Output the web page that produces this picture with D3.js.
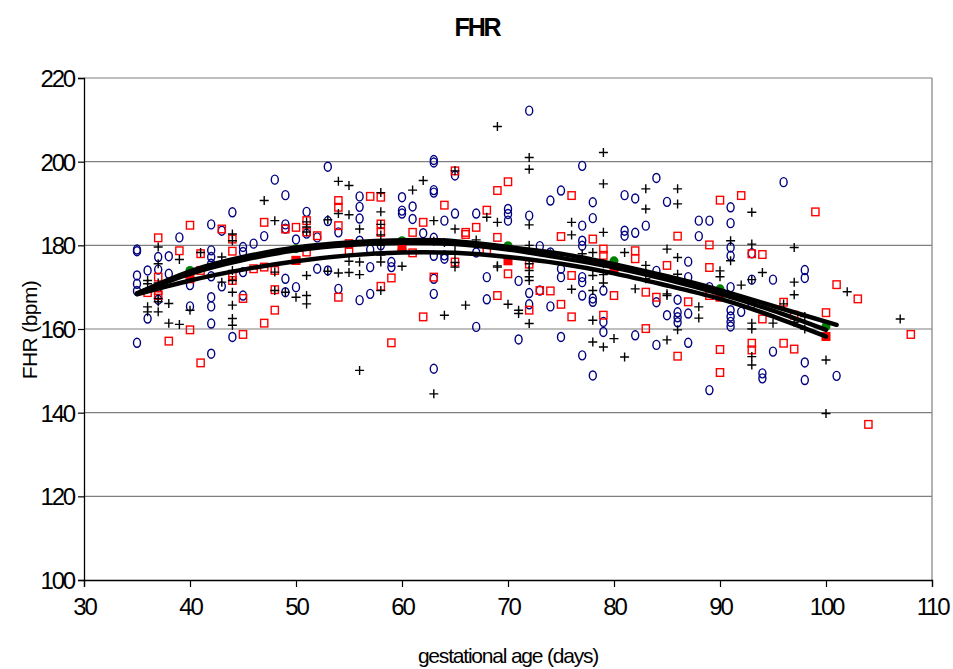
<!DOCTYPE html>
<html><head><meta charset="utf-8">
<script src="https://cdn.jsdelivr.net/npm/d3@7"></script>
<style>
html,body{margin:0;padding:0;background:#fff;}
text{font-family:"Liberation Sans",Arial,sans-serif;}
</style></head>
<body><svg id="chart" width="953" height="669"></svg>
<script>
const title = "FHR";
const xLabel = "gestational age (days)";
const yLabel = "FHR (bpm)";
const xTicks = [30,40,50,60,70,80,90,100,110];
const yTicks = [100,120,140,160,180,200,220];

// series 1: blue open circles [day, bpm]
const circlePts = [
[35,179],[35,178.6],[35,172.8],[35,170.8],[35,169.1],[35,156.7],
[36,174],[36,162.5],[37,177.2],[37,174.2],[37,170],[37,167],[38,177.4],[38,173.2],[39,181.9],
[40,165.4],[40,170.5],[42,185],[42,178.8],[42,177.2],[42,175.6],[42,172.6],[42,167.6],[42,165.4],[42,161.3],[42,154.1],
[43,183.5],[43,170.2],[44,187.9],[44,158.1],[45,179.6],[45,178.4],[45,173.6],[45,168],[46,180.4],[47,182.2],
[48,195.7],[49,192],[49,185],[49,184],[49,172],[49,168.8],[50,181.4],[50,170],[51,188],[51,182.8],
[52,181.9],[52,174.4],[53,198.8],[53,185.8],[53,174],[54,183.1],[54,169.6],
[56,191.7],[56,189.2],[56,186.4],[56,181.1],[56,166.9],[57,174.8],[57,168.4],[57,179],[58,180],
[59,176],[59,174.8],[60,191.5],[60,188.3],[60,187.6],[61,189.3],[61,186.3],[62,182.9],
[63,200.4],[63,199.8],[63,193.2],[63,192.6],[63,181.8],[63,177.5],[63,168.4],[63,150.5],[63,172],
[64,185.9],[64,177.6],[64,176.8],[65,196.7],[65,187.6],[67,187.6],[67,178.3],[67,160.5],
[68,172.4],[68,167.1],[70,188.7],[70,187.5],[70,185.9],[71,171.5],[71,157.5],
[72,212.2],[72,187.1],[72,168.6],[72,165.9],[73,179.8],[73,169.2],[74,190.7],[74,178.3],[74,165.4],
[75,193.1],[75,174.4],[75,172.4],[75,158.1],
[77,199],[77,184.7],[77,181.1],[77,179.9],[77,172.4],[77,171.2],[77,168],[77,153.7],
[78,190.3],[78,186.5],[78,167.3],[78,166.5],[78,148.9],[79,169.2],[79,161.7],[79,159.3],
[81,192],[81,183.5],[81,182.3],[82,191.2],[82,183],[82,158.5],[83,184.7],
[84,196.1],[84,173.9],[84,166.4],[84,156.2],[85,190.4],[85,163.3],
[86,167],[86,164],[86,162.8],[86,161.6],[87,176.1],[87,172.4],[87,163.7],[87,156.7],
[88,185.9],[88,182.2],[89,185.9],[89,170],[89,145.4],
[91,189.1],[91,185.3],[91,179.5],[91,177.5],[91,170],[91,164.5],[91,163],[91,161.7],[91,160.6],
[92,164.1],[93,178.1],[93,171.8],[93,166],[94,149.4],[94,148.2],[95,171.8],[95,154.6],[96,195.1],
[98,174.1],[98,172.2],[98,152],[98,147.8],[101,148.8]
];

// series 2: red open squares [day, bpm]
const squarePts = [
[36,168.7],[37,181.8],[37,172.4],[37,169.2],[37,168],[38,157.1],[39,178.7],[40,184.8],[40,159.8],
[41,178],[41,174],[41,151.9],[43,183.9],[44,181.5],[44,178.6],[44,172.8],[44,171.6],[45,167.3],[45,158.7],
[46,174.4],[47,185.5],[47,174.8],[47,161.4],[48,174],[48,169.4],[48,164.5],[49,183.9],[50,184.3],[50,176.4],
[51,185.9],[51,183.2],[51,178.4],[52,182.3],[54,190.7],[54,189.1],[54,184.7],[54,167.6],[55,180.4],[55,178.4],
[57,191.7],[58,191.5],[58,185.1],[58,183.1],[58,170.2],[59,172.2],[59,156.7],[61,183.1],[61,178.2],
[62,185.5],[62,162.9],[63,172.4],[64,189.6],[65,197.8],[65,176],[66,183.1],[66,182.6],[67,184.3],
[68,188.4],[68,178.8],[69,193.1],[69,181.9],[69,168],[70,195.2],[70,173.2],[72,175.5],[72,164.5],
[73,169.2],[74,169.1],[75,182.1],[75,165.9],[76,191.9],[76,172.8],[76,162.9],[78,181.5],
[79,179.1],[79,177.6],[79,163.3],[80,168],[82,178.7],[82,176.8],[83,168.8],[83,160.1],[84,167.6],
[85,175.2],[86,182.2],[86,153.5],[87,166.5],[89,180.1],[89,174.7],[89,168],
[90,190.8],[90,155.1],[90,149.6],[92,191.9],[93,178],[93,156.6],[93,155],[94,177.8],[94,162.4],
[96,166.4],[96,156.6],[97,163.3],[97,155.2],[99,188],[100,163.9],[101,170.6],[103,167.2],[104,137.2],[108,158.7]
];

// series 3: black crosses [day, bpm]
const crossPts = [
[36,171.6],[36,170.8],[36,165.3],[36,164.1],[37,179.6],[37,175.6],[37,171],[37,167.3],[37,166.5],[37,164.1],
[38,166.1],[38,161.4],[39,176.6],[39,161.1],[40,164.5],[41,178.3],[43,177.2],[43,171.2],
[44,182.7],[44,181.1],[44,174],[44,171.6],[44,168.8],[44,165.7],[44,162.5],[44,160.9],
[47,190.7],[48,185.9],[48,173.6],[48,169.2],[49,168.8],[50,167.6],
[51,185.6],[51,184.4],[51,183.2],[51,172.8],[51,168],[51,166],[53,186.1],[53,173.8],
[54,195.3],[54,187.6],[54,173.4],[55,194.3],[55,187.3],[55,176.2],[55,173.5],
[56,183.9],[56,176],[56,173],[56,150.1],
[58,192.6],[58,188],[58,185],[58,182.5],[58,180],[58,177.7],[58,176],[58,169.2],
[60,179],[60,175],[61,193.2],[62,195.5],[63,185.9],[63,181],[63,144.5],[64,180.7],[64,163.3],
[65,197.8],[65,183.9],[65,180],[65,177.9],[65,175.9],[65,174.8],[66,165.7],[67,181.3],[68,186.7],
[69,208.4],[69,185.5],[69,175.1],[69,174.8],[70,165.9],[71,164.5],[71,163.7],
[72,201],[72,198.2],[72,184.9],[72,180],[72,175.6],[72,174],[72,172.5],[72,171.6],[72,161.3],
[74,178],[76,185.5],[76,182.5],[76,169.5],[77,178],
[78,178.3],[78,172.8],[78,169.2],[78,162.1],[78,156.9],
[79,202.2],[79,194.7],[79,183.1],[79,175.6],[79,173],[79,171],[79,155.7],[80,157.7],
[81,178.3],[81,153.3],[82,169.6],[83,193.5],[83,188.7],[83,175.2],[83,172],
[85,179.1],[85,168.4],[85,168],[85,157.4],[86,193.5],[86,189.9],[86,177.1],[86,173.1],[86,159.8],
[88,165.3],[88,162.6],[90,173.9],[90,172.5],[91,181.1],[91,176.3],[92,170.5],
[93,187.9],[93,180.3],[93,171.8],[93,161.4],[93,160],[93,153.4],[93,151.4],[94,173.5],[95,161.4],[96,166],
[97,179.5],[97,171.2],[97,168.2],[97,161.6],[98,163],[98,160],[100,152.6],[100,139.8],[102,168.9],[107,162.4]
];

// mean markers at decades
const meanDays = [40,50,60,70,80,90,100];
const greenMeans = [174,179.2,181.1,179.9,176.3,169.6,160.6];
const redMeans = [172,176.4,179.1,176.3,174.4,167.6,158.2];

// fitted curves (read values)
const fitADays = [35,40,45,50,55,60,65,70,75,80,85,90,95,101];
const fitAVals = [168.5,173.8,177.2,179.5,180.7,181.2,181,179.6,178,175.5,172.6,169.3,165.5,161];
const fitBDays = [35,40,45,50,55,60,65,70,75,80,85,90,95,100];
const fitBVals = [168.5,173.2,176.5,178.8,180.1,180.6,180.3,179,177,174.7,171.8,168.4,164.4,159.8];
const fitCDays = [35,40,45,50,55,60,65,70,75,80,85,90,95,100];
const fitCVals = [168.3,171.6,174.2,176.2,177.6,178.3,178.2,177.2,175.6,173.3,170.4,167.2,163,158.2];

const svg = d3.select("#chart");
const L=84, R=932, T=78, B=580;
const x = d3.scaleLinear().domain([30,110]).range([L,R]);
const y = d3.scaleLinear().domain([100,220]).range([B,T]);

// gridlines
svg.append("g").selectAll("line").data(yTicks.filter(v=>v>100)).join("line")
  .attr("x1",L).attr("x2",R).attr("y1",d=>y(d)).attr("y2",d=>y(d))
  .attr("stroke","#7f7f7f").attr("stroke-width",1.2);
svg.append("line").attr("x1",R).attr("x2",R).attr("y1",T).attr("y2",B)
  .attr("stroke","#7f7f7f").attr("stroke-width",1.2);

// axes
const yAxis = svg.append("g").attr("transform",`translate(${L},0)`)
  .call(d3.axisLeft(y).tickValues(yTicks).tickSize(6).tickPadding(4).tickFormat(d3.format("d")));
const xAxis = svg.append("g").attr("transform",`translate(0,${B})`)
  .call(d3.axisBottom(x).tickValues(xTicks).tickSize(7).tickPadding(11).tickFormat(d3.format("d")));
[yAxis,xAxis].forEach(g=>{
  g.select(".domain").attr("stroke","#000").attr("stroke-width",1.3);
  g.selectAll(".tick line").attr("stroke","#000").attr("stroke-width",1.2);
  g.selectAll("text").attr("font-size",24).attr("fill","#000").attr("letter-spacing","-2.2px")
   .style("font-family","'Liberation Sans',Arial,sans-serif");
});
yAxis.selectAll("text").attr("dy","0.36em");

// scatter
const plot = svg.append("g");
plot.selectAll(".c").data(circlePts).join("ellipse")
  .attr("cx",d=>x(d[0])).attr("cy",d=>y(d[1])).attr("rx",3.5).attr("ry",4.5)
  .attr("fill","none").attr("stroke","#000080").attr("stroke-width",1.4);
plot.selectAll(".s").data(squarePts).join("rect")
  .attr("x",d=>x(d[0])-3.6).attr("y",d=>y(d[1])-3.8).attr("width",7.2).attr("height",7.6)
  .attr("fill","none").attr("stroke","#ff0000").attr("stroke-width",1.4);
plot.selectAll(".x").data(crossPts).join("path")
  .attr("d",d=>{const cx=x(d[0]),cy=y(d[1]);return `M${cx-4.5},${cy}H${cx+4.5}M${cx},${cy-4.5}V${cy+4.5}`;})
  .attr("stroke","#000").attr("stroke-width",1.4);

// means
plot.selectAll(".g").data(meanDays).join("circle")
  .attr("cx",d=>x(d)).attr("cy",(d,i)=>y(greenMeans[i])).attr("r",4.5).attr("fill","#008000");
plot.selectAll(".r").data(meanDays).join("rect")
  .attr("x",d=>x(d)-4.5).attr("y",(d,i)=>y(redMeans[i])-4.5).attr("width",9).attr("height",9).attr("fill","#ff0000");

// fits
const line = d3.line().x(d=>x(d[0])).y(d=>y(d[1])).curve(d3.curveNatural);
[[fitADays,fitAVals],[fitBDays,fitBVals],[fitCDays,fitCVals]].forEach(([ds,vs])=>{
  svg.append("path").datum(ds.map((d,i)=>[d,vs[i]])).attr("d",line)
    .attr("fill","none").attr("stroke","#000").attr("stroke-width",4.5).attr("stroke-linecap","round");
});

// labels
svg.append("text").attr("x",477).attr("y",36).attr("text-anchor","middle")
  .attr("font-size",25).attr("font-weight","bold").attr("letter-spacing","-2.2px").text(title);
svg.append("text").attr("x",508).attr("y",663).attr("text-anchor","middle")
  .attr("font-size",21).attr("letter-spacing","-1.2px").text(xLabel);
svg.append("text").attr("transform","translate(37,330) rotate(-90)").attr("text-anchor","middle")
  .attr("font-size",21).attr("letter-spacing","-0.6px").text(yLabel);
</script></body></html>
